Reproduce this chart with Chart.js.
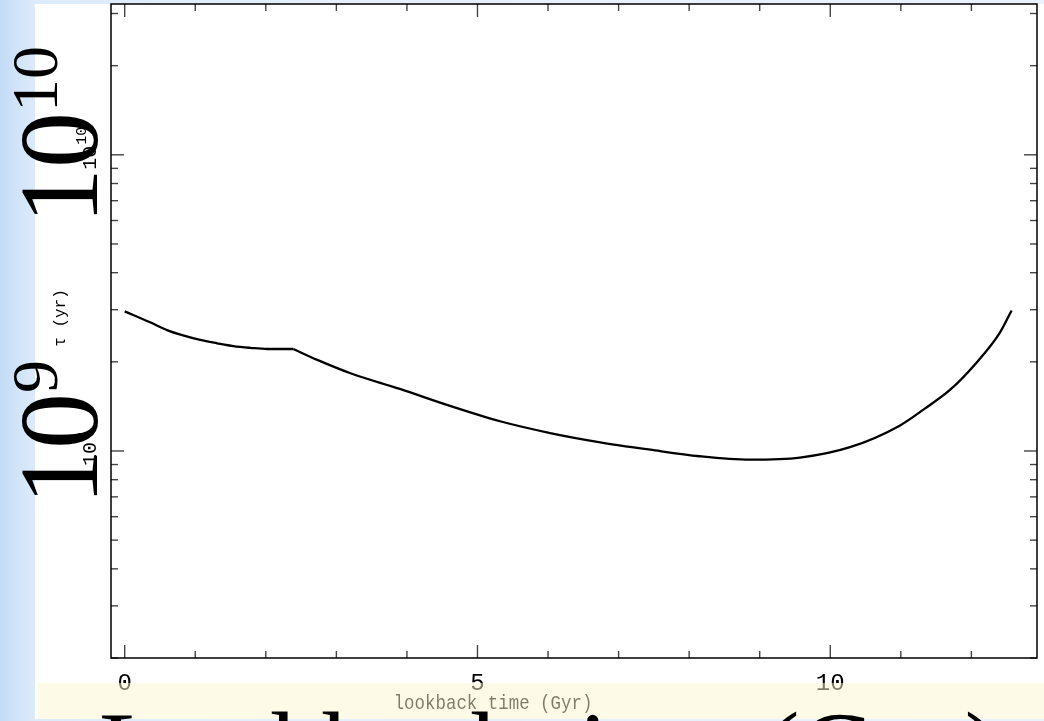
<!DOCTYPE html>
<html>
<head>
<meta charset="utf-8">
<script src="https://cdn.jsdelivr.net/npm/chart.js@4.4.1/dist/chart.umd.min.js"></script>
<style>
  html, body { margin: 0; padding: 0; width: 1044px; height: 721px; overflow: hidden; }
  body {
    position: relative;
    background: linear-gradient(90deg, #c3dbf6 0px, #d2e4f9 18px, #dcebfb 35px, #e4effb 300px, #eaf3fc 100%);
  }
  #panel { position: absolute; left: 35px; top: 4px; width: 1009px; height: 715px; background: #fff; }
  #chart { position: absolute; left: 0; top: 0; }
  #band { position: absolute; left: 38px; top: 683px; width: 1006px; height: 36px; background: rgba(251, 247, 209, 0.5); }
  .big {
    position: absolute;
    font-family: "Liberation Serif", "Times New Roman", serif;
    color: #000;
    line-height: 1;
    white-space: nowrap;
  }
  .rot { transform: rotate(-90deg); transform-origin: 0 0; }
  .sup { font-size: 66px; position: relative; top: -40px; }
</style>
</head>
<body>
<div id="panel"></div>
<canvas id="chart" width="1044" height="721"></canvas>
<div id="band"></div>
<div class="big rot" style="left:3px; top:224px; font-size:112px;">10<span class="sup">10</span></div>
<div class="big rot" style="left:3px; top:505px; font-size:112px;">10<span class="sup">9</span></div>
<div class="big" style="left:99px; top:697px; font-size:106px;">Lookback time (Gyr)</div>

<script>
// Timescale tau versus lookback time
const lookbackGyr = [0, 0.36, 0.6, 0.84, 1.07, 1.31, 1.54, 1.78, 2.02, 2.39, 2.73, 3.2, 3.9, 4.61,
  5.32, 6.03, 6.74, 7.45, 8.15, 8.86, 9.57, 10.28, 10.99, 11.34, 11.7, 12.05, 12.4, 12.57];
const tauYr = [2.96e9, 2.72e9, 2.56e9, 2.45e9, 2.37e9, 2.31e9, 2.26e9, 2.23e9, 2.21e9, 2.21e9,
  2.03e9, 1.83e9, 1.62e9, 1.42e9, 1.26e9, 1.15e9, 1.07e9, 1.01e9, 9.6e8, 9.35e8, 9.5e8,
  1.03e9, 1.22e9, 1.39e9, 1.61e9, 1.96e9, 2.5e9, 2.98e9];
// index where the curve changes slope abruptly
const kinkIndex = 9;

// Axis ticks and labels
const xMajorTicks = [0, 5, 10];
const xMinorTicks = [1, 2, 3, 4, 6, 7, 8, 9, 11, 12];
const xTickLabels = ['0', '5', '10'];
const yMajorTicks = [1e9, 1e10];
const yMinorTicks = [2e8, 3e8, 4e8, 5e8, 6e8, 7e8, 8e8, 9e8,
  2e9, 3e9, 4e9, 5e9, 6e9, 7e9, 8e9, 9e9, 2e10, 3e10];
const yTickBase = ['10', '10'];
const yTickExp = ['9', '10'];
const xTitle = 'lookback time (Gyr)';
const yTitle = 'τ (yr)';

const MONO = '"Liberation Mono", "DejaVu Sans Mono", monospace';

// Frame with inward ticks on all four sides, plus tick labels and axis titles
const frameTicks = {
  id: 'frameTicks',
  afterDatasetsDraw(chart) {
    const { ctx, chartArea: a, scales: { x, y } } = chart;
    ctx.save();
    const seg = (x1, y1, x2, y2) => { ctx.beginPath(); ctx.moveTo(x1, y1); ctx.lineTo(x2, y2); ctx.stroke(); };

    ctx.strokeStyle = '#444';
    ctx.lineWidth = 1.4;
    const major = 13, minor = 7;
    xMajorTicks.forEach(v => { const p = x.getPixelForValue(v); seg(p, a.bottom, p, a.bottom - major); seg(p, a.top, p, a.top + major); });
    xMinorTicks.forEach(v => { const p = x.getPixelForValue(v); seg(p, a.bottom, p, a.bottom - minor); seg(p, a.top, p, a.top + minor); });
    yMajorTicks.forEach(v => { const p = y.getPixelForValue(v); seg(a.left, p, a.left + major, p); seg(a.right, p, a.right - major, p); });
    yMinorTicks.forEach(v => { const p = y.getPixelForValue(v); seg(a.left, p, a.left + minor, p); seg(a.right, p, a.right - minor, p); });

    ctx.strokeStyle = '#000';
    ctx.lineWidth = 1.5;
    ctx.strokeRect(a.left, a.top, a.right - a.left, a.bottom - a.top);

    // x tick labels
    ctx.fillStyle = '#000';
    ctx.font = '24px ' + MONO;
    ctx.textAlign = 'center';
    ctx.textBaseline = 'alphabetic';
    xMajorTicks.forEach((v, i) => ctx.fillText(xTickLabels[i], x.getPixelForValue(v), a.bottom + 32));

    // x title (narrow typewriter)
    ctx.save();
    ctx.translate(493, a.bottom + 51);
    ctx.scale(0.83, 1);
    ctx.font = '21px ' + MONO;
    ctx.fillText(xTitle, 0, 0);
    ctx.restore();

    // y tick labels, rotated: base "10" with exponent
    yMajorTicks.forEach((v, i) => {
      const p = y.getPixelForValue(v);
      ctx.save();
      ctx.translate(a.left - 15, p + 15);
      ctx.rotate(-Math.PI / 2);
      ctx.textAlign = 'left';
      ctx.font = '20px ' + MONO;
      ctx.fillText(yTickBase[i], 0, 0);
      const w = ctx.measureText(yTickBase[i]).width;
      ctx.font = '15px ' + MONO;
      ctx.fillText(yTickExp[i], w + 1, -10);
      ctx.restore();
    });

    // y title
    ctx.save();
    ctx.translate(a.left - 46, 318);
    ctx.rotate(-Math.PI / 2);
    ctx.textAlign = 'center';
    ctx.font = '16px ' + MONO;
    ctx.fillText(yTitle, 0, 0);
    ctx.restore();

    ctx.restore();
  }
};

const toPoints = (from, to) => lookbackGyr.slice(from, to).map((t, i) => ({ x: t, y: tauYr[from + i] }));
const lineStyle = { borderColor: '#000', borderWidth: 2.3, pointRadius: 0, fill: false, cubicInterpolationMode: 'monotone' };

new Chart(document.getElementById('chart'), {
  type: 'line',
  data: {
    datasets: [
      Object.assign({ data: toPoints(0, kinkIndex + 1) }, lineStyle),
      Object.assign({ data: toPoints(kinkIndex, lookbackGyr.length) }, lineStyle)
    ]
  },
  options: {
    responsive: false,
    animation: false,
    devicePixelRatio: 1,
    layout: { padding: { left: 111, right: 7, top: 4, bottom: 63 } },
    plugins: { legend: { display: false }, tooltip: { enabled: false } },
    scales: {
      x: { type: 'linear', min: -0.194, max: 12.93, display: false },
      y: { type: 'logarithmic', min: 2e8, max: 3.23e10, display: false }
    }
  },
  plugins: [frameTicks]
});
</script>
</body>
</html>
